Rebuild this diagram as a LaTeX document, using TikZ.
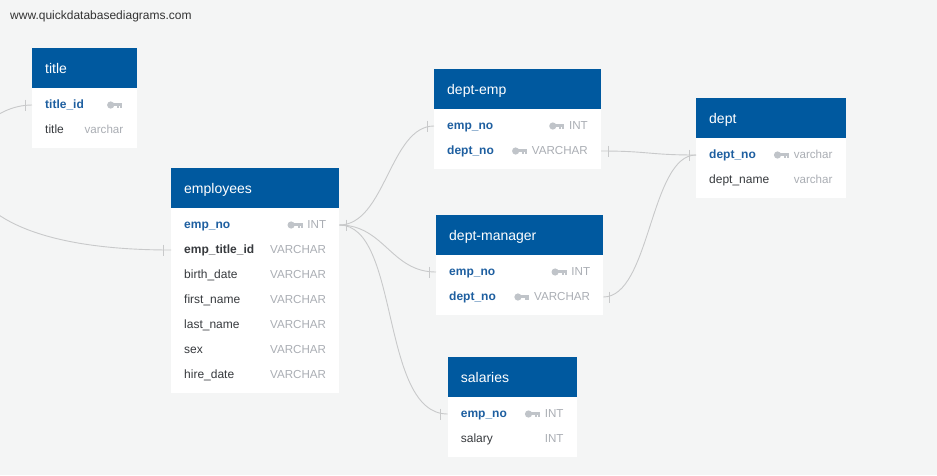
\documentclass[tikz,border=0pt]{standalone}
\usepackage{fontspec}
\setmainfont{Liberation Sans}
\usetikzlibrary{calc}

\definecolor{canvasbg}{RGB}{244,245,245}
\definecolor{headblue}{RGB}{0,89,159}
\definecolor{keyblue}{RGB}{30,95,160}
\definecolor{fieldtext}{RGB}{55,58,62}
\definecolor{typegray}{RGB}{170,174,180}
\definecolor{keygray}{RGB}{192,196,201}
\definecolor{linkgray}{RGB}{200,201,202}
\definecolor{urltext}{RGB}{51,51,51}

\tikzset{
  tblhead/.style={fill=headblue, inner sep=0, outer sep=0, minimum height=40pt},
  tblbody/.style={fill=white, inner sep=0, outer sep=0},
  headtext/.style={text=white, inner sep=0, font=\fontsize{14}{16}\selectfont},
  rowband/.style={inner sep=0, outer sep=0, minimum height=25pt},
  plainname/.style={inner sep=0, text=fieldtext, font=\fontsize{12}{14}\selectfont},
  fkname/.style={plainname, font=\fontsize{12}{14}\selectfont\bfseries},
  keyname/.style={fkname, text=keyblue},
  typetext/.style={inner sep=0, text=typegray, text height=9.4pt, text depth=2.4pt,
    font=\fontsize{11.6}{14}\selectfont},
  sitelabel/.style={inner sep=0, text=urltext, font=\fontsize{12}{14}\selectfont},
  link/.style={draw=linkgray, line width=0.9pt},
  tickmark/.style={draw=linkgray, line width=1pt},
  % primary-key glyph, origin at its right end, vertically centred
  dbkey/.pic={
    \fill[keygray] (-11.4,0) circle (3.6);
    \fill[keygray] (-9,-1.7) rectangle (0,1.2);
    \fill[keygray] (-4.8,1.2) rectangle (-2.8,3.4);
    \fill[keygray] (-1.9,1.2) rectangle (0,3.4);
  }
}

% table: id, left, top, width, number of fields, caption
\newcommand\dbtable[6]{%
  \gdef\tblw{#4}%
  \node[tblhead, minimum width=#4pt, anchor=north west] (#1) at (#2,#3) {};
  \node[tblbody, minimum width=#4pt, minimum height={9.5pt+25pt*#5},
        anchor=north west] (#1-body) at (#1.south west) {};
  \node[headtext, anchor=base west] (#1-cap) at ([shift={(13,25.3)}]#1.north west) {#6};
}
% field: id, table id, index, name, type, name style, key (0 none, 1 before type, 2 alone)
\newcommand\dbfield[7]{%
  \node[rowband, minimum width=\tblw pt, anchor=west] (#1)
    at ([shift={(0,{17+25*(#3-1)})}]#2-body.north west) {};
  \node[#6, anchor=base west] (#1-n) at ([shift={(13,3.5)}]#1.west) {#4};
  \node[typetext, anchor=base east] (#1-t) at ([shift={(-13,3.5)}]#1.east) {#5};
  \ifcase#7\or
    \pic at ([xshift=-4.7pt]#1-t.west) {dbkey};\or
    \pic at (#1-t.west) {dbkey};\fi
}
% one-side marker: short vertical bar, offset (pt) from a row anchor
\newcommand\onemark[2]{%
  \draw[tickmark] ([xshift=#1pt,yshift=5.5pt]#2) -- ([xshift=#1pt,yshift=-5.5pt]#2);
}

\begin{document}
\begin{tikzpicture}[x=1pt, y=-1pt]
  \fill[canvasbg] (0,0) rectangle (937,475);
  \useasboundingbox (0,0) rectangle (937,475);

  \node[sitelabel, anchor=base west] (site) at (10,19.3) {www.quickdatabasediagrams.com};

  % title
  \dbtable{title}{32}{48}{104.5}{2}{title}
  \dbfield{title-id}{title}{1}{title\_id}{}{keyname}{2}
  \dbfield{title-title}{title}{2}{title}{varchar}{plainname}{0}

  % employees
  \dbtable{emp}{171}{168}{168.3}{7}{employees}
  \dbfield{emp-no}{emp}{1}{emp\_no}{INT}{keyname}{1}
  \dbfield{emp-titleid}{emp}{2}{emp\_title\_id}{VARCHAR}{fkname}{0}
  \dbfield{emp-birth}{emp}{3}{birth\_date}{VARCHAR}{plainname}{0}
  \dbfield{emp-first}{emp}{4}{first\_name}{VARCHAR}{plainname}{0}
  \dbfield{emp-last}{emp}{5}{last\_name}{VARCHAR}{plainname}{0}
  \dbfield{emp-sex}{emp}{6}{sex}{VARCHAR}{plainname}{0}
  \dbfield{emp-hire}{emp}{7}{hire\_date}{VARCHAR}{plainname}{0}

  % dept-emp
  \dbtable{de}{434}{69}{167}{2}{dept-emp}
  \dbfield{de-empno}{de}{1}{emp\_no}{INT}{keyname}{1}
  \dbfield{de-deptno}{de}{2}{dept\_no}{VARCHAR}{keyname}{1}

  % dept-manager
  \dbtable{dm}{436}{215}{167.3}{2}{dept-manager}
  \dbfield{dm-empno}{dm}{1}{emp\_no}{INT}{keyname}{1}
  \dbfield{dm-deptno}{dm}{2}{dept\_no}{VARCHAR}{keyname}{1}

  % salaries
  \dbtable{sal}{447.7}{357}{129}{2}{salaries}
  \dbfield{sal-empno}{sal}{1}{emp\_no}{INT}{keyname}{1}
  \dbfield{sal-salary}{sal}{2}{salary}{INT}{plainname}{0}

  % dept
  \dbtable{dept}{696}{98}{149.7}{2}{dept}
  \dbfield{dept-no}{dept}{1}{dept\_no}{varchar}{keyname}{1}
  \dbfield{dept-name}{dept}{2}{dept\_name}{varchar}{plainname}{0}

  % relationships
  \draw[link] (title-id.west) .. controls +(-77,0) and +(-276,0) .. (emp-titleid.west);
  \draw[link] (emp-no.east) .. controls +(46,0) and +(-44,0) .. (de-empno.west);
  \draw[link] (emp-no.east) .. controls +(45,0) and +(-45,0) .. (dm-empno.west);
  \draw[link] (emp-no.east) .. controls +(61,0) and +(-68,0) .. (sal-empno.west);
  \draw[link] (de-deptno.east) .. controls +(48,0) and +(-48,0) .. (dept-no.west);
  \draw[link] (dm-deptno.east) .. controls +(47,0) and +(-46,0) .. (dept-no.west);

  % cardinality bars
  \onemark{-7}{title-id.west}
  \onemark{-7.5}{emp-titleid.west}
  \onemark{7.5}{emp-no.east}
  \onemark{-7}{de-empno.west}
  \onemark{7}{de-deptno.east}
  \onemark{-7}{dm-empno.west}
  \onemark{6}{dm-deptno.east}
  \onemark{-7}{sal-empno.west}
  \onemark{-7}{dept-no.west}
\end{tikzpicture}
\end{document}
